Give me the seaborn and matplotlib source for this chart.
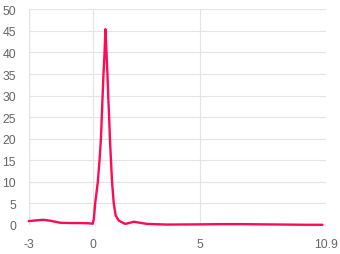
import matplotlib
matplotlib.use("Agg")
import matplotlib.pyplot as plt
import seaborn as sns
import pandas as pd

# data
x_vals = [-3.0, -2.6, -2.3, -2.0, -1.5, -1.0, -0.5, -0.2, 0.0, 0.05, 0.11, 0.235,
          0.315, 0.38, 0.42, 0.46, 0.50, 0.55, 0.59, 0.64, 0.685, 0.72, 0.765,
          0.80, 0.85, 0.90, 0.98, 1.07, 1.22, 1.52, 1.92, 2.54, 3.5, 5.0, 6.0,
          7.0, 8.0, 9.0, 10.0, 10.75]
y_vals = [0.9, 1.1, 1.2, 1.0, 0.5, 0.45, 0.45, 0.4, 0.3, 1.5, 5.0, 10.0,
          15.0, 20.0, 25.0, 30.0, 35.0, 40.0, 45.4, 40.0, 35.0, 30.0, 25.0,
          20.0, 15.0, 10.0, 5.0, 2.2, 1.0, 0.25, 0.75, 0.25, 0.1, 0.15, 0.2,
          0.2, 0.15, 0.1, 0.05, 0.05]
x_ticks = [-3, 0, 5, 10.9]
x_labels = ["-3", "0", "5", "10.9"]
y_ticks = [0, 5, 10, 15, 20, 25, 30, 35, 40, 45, 50]

df = pd.DataFrame({"x": x_vals, "y": y_vals})

sns.set_theme(style="white")
plt.rcParams["font.family"] = ["Liberation Sans", "DejaVu Sans"]

W, H = 340, 255
fig = plt.figure(figsize=(W / 100, H / 100), dpi=100)
left, right, top, bottom = 28.7, 325.7, 10.3, 226.0
ax = fig.add_axes([left / W, (H - bottom) / H, (right - left) / W, (bottom - top) / H])

sns.lineplot(data=df, x="x", y="y", ax=ax, color="#ff0a54", linewidth=1.7,
             sort=False, clip_on=False)
ax.lines[0].set_solid_joinstyle("round")

ax.set_xlim(-3, 10.9)
ax.set_ylim(0, 50)
ax.set_xticks(x_ticks)
ax.set_xticklabels(x_labels)
ax.set_yticks(y_ticks)
ax.set_xlabel("")
ax.set_ylabel("")

grid_c = "#e4e4e4"
ax.grid(True, color=grid_c, linewidth=0.8)
for s in ax.spines.values():
    s.set_visible(False)
ax.axvline(-3, color="#d0d0d0", linewidth=0.9, zorder=0.5)
ax.tick_params(axis="both", which="both", length=6.2, width=0.8, color=grid_c,
               labelsize=8.8, labelcolor="#666666", direction="out")
ax.tick_params(axis="y", pad=3)
ax.tick_params(axis="x", pad=3)
ax.set_axisbelow(True)

fig.savefig("out.png", dpi=100, facecolor="white")
